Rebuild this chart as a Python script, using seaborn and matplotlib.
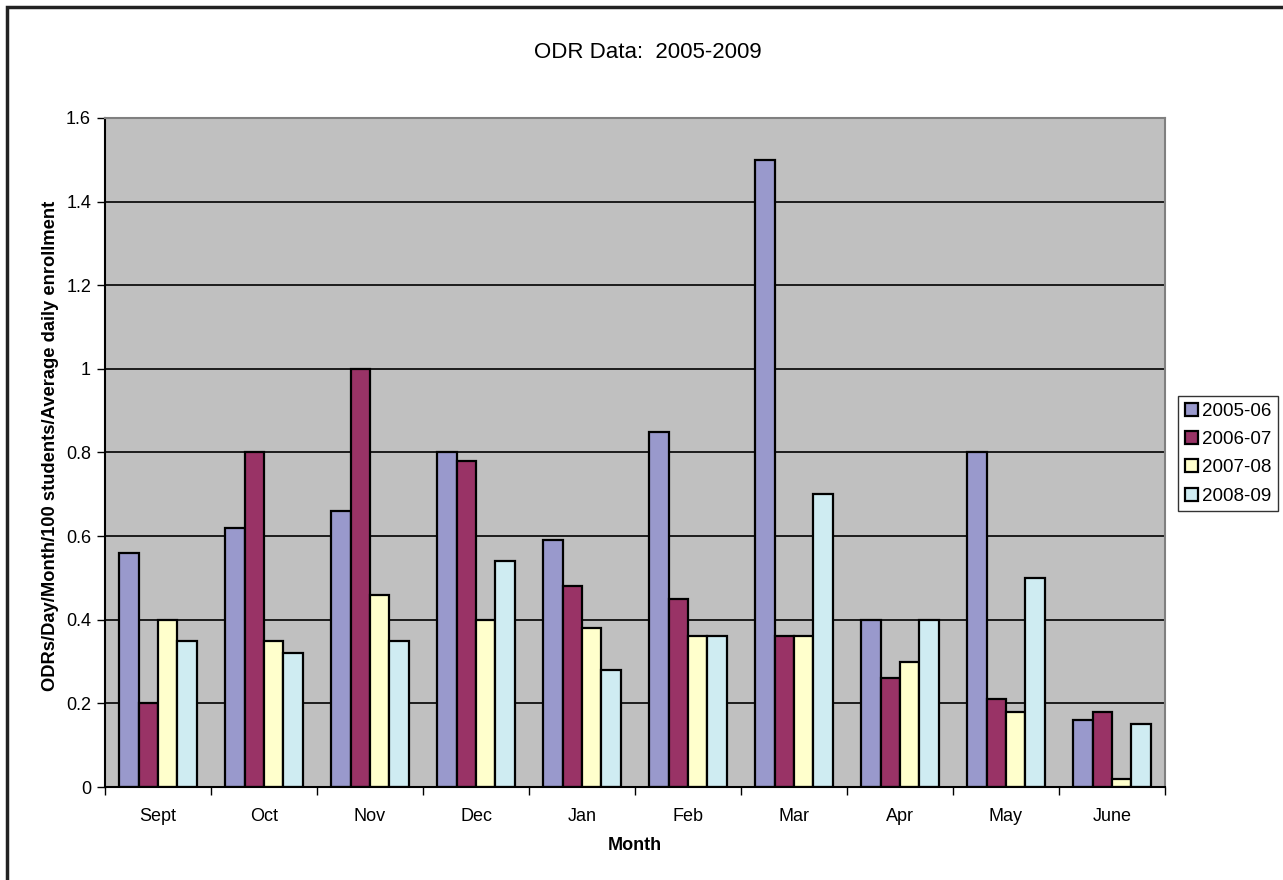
import pandas as pd
import seaborn as sns
import matplotlib.pyplot as plt
from matplotlib.patches import Rectangle

# chart data
months = ['Sept', 'Oct', 'Nov', 'Dec', 'Jan', 'Feb', 'Mar', 'Apr', 'May', 'June']
years = ['2005-06', '2006-07', '2007-08', '2008-09']
y2005 = [0.56, 0.62, 0.66, 0.80, 0.59, 0.85, 1.50, 0.40, 0.80, 0.16]
y2006 = [0.20, 0.80, 1.00, 0.78, 0.48, 0.45, 0.36, 0.26, 0.21, 0.18]
y2007 = [0.40, 0.35, 0.46, 0.40, 0.38, 0.36, 0.36, 0.30, 0.18, 0.02]
y2008 = [0.35, 0.32, 0.35, 0.54, 0.28, 0.36, 0.70, 0.40, 0.50, 0.15]
yticks = [0, 0.2, 0.4, 0.6, 0.8, 1, 1.2, 1.4, 1.6]
ytick_labels = ['0', '0.2', '0.4', '0.6', '0.8', '1', '1.2', '1.4', '1.6']

colors = ['#9999CC', '#993366', '#FFFFCC', '#CFECF2']

# long table for seaborn
df = pd.DataFrame({'Month': months * 4,
                   'Year': sum([[y] * len(months) for y in years], []),
                   'Value': y2005 + y2006 + y2007 + y2008})

sns.set_style('white')
plt.rcParams['font.family'] = ['Liberation Sans', 'DejaVu Sans']
plt.rcParams['text.color'] = 'black'
plt.rcParams['axes.labelcolor'] = 'black'
plt.rcParams['xtick.color'] = 'black'
plt.rcParams['ytick.color'] = 'black'

fig = plt.figure(figsize=(12.83, 8.80), dpi=100)
ax = fig.add_axes([105 / 1283, 1 - 787 / 880, 1060 / 1283, (787 - 118) / 880])
ax.set_facecolor('#C0C0C0')

sns.barplot(data=df, x='Month', y='Value', hue='Year', order=months,
            hue_order=years, palette=colors, width=0.73, edgecolor='black',
            linewidth=1.6, saturation=1, ax=ax, legend=True)

ax.set_ylim(0, 1.6)
ax.set_xlim(-0.5, len(months) - 0.5)
ax.set_yticks(yticks)
ax.set_yticklabels(ytick_labels, fontsize=13)
ax.yaxis.grid(True, color='black', linewidth=1.2)
ax.set_axisbelow(True)

# tick marks between month groups, labels at the centres
ax.set_xticks([i - 0.5 for i in range(len(months) + 1)], minor=False)
ax.set_xticklabels([])
ax.set_xticks(range(len(months)), minor=True)
ax.set_xticklabels(months, minor=True, fontsize=13)
ax.tick_params(axis='x', which='major', direction='out', length=6, width=1, color='black', bottom=True)
ax.tick_params(axis='x', which='minor', length=0, pad=15)
ax.tick_params(axis='y', direction='out', length=6, width=1, color='black', left=True, pad=4)

for side in ['left', 'bottom']:
    ax.spines[side].set_color('black')
    ax.spines[side].set_linewidth(1.5)
for side in ['top', 'right']:
    ax.spines[side].set_color('#808080')
    ax.spines[side].set_linewidth(1.5)

ax.set_xlabel('Month', fontsize=13, fontweight='bold', labelpad=9)
ax.set_ylabel('ODRs/Day/Month/100 students/Average daily enrollment', fontsize=13.2,
              fontweight='bold', labelpad=5)
ax.yaxis.label.set_y(0.51)
fig.text(648 / 1283, 1 - 53 / 880, 'ODR Data:  2005-2009', ha='center', va='center', fontsize=16)

leg = ax.legend(loc='upper left', bbox_to_anchor=(1178 / 1283, 1 - 396 / 880),
                bbox_transform=fig.transFigure, frameon=True, fancybox=False,
                fontsize=13.5, handlelength=0.7, handleheight=0.7, handletextpad=0.25,
                borderpad=0.35, labelspacing=0.6, borderaxespad=0)
leg.get_frame().set_edgecolor('black')
leg.get_frame().set_linewidth(1)

# outer chart border
fig.patches.append(Rectangle((7 / 1283, -0.1), 1.2, 1 - 7 / 880 + 0.1, transform=fig.transFigure,
                             fill=False, edgecolor='#222222', linewidth=2.5, clip_on=False))

plt.savefig('out.png', dpi=100)
plt.close()
